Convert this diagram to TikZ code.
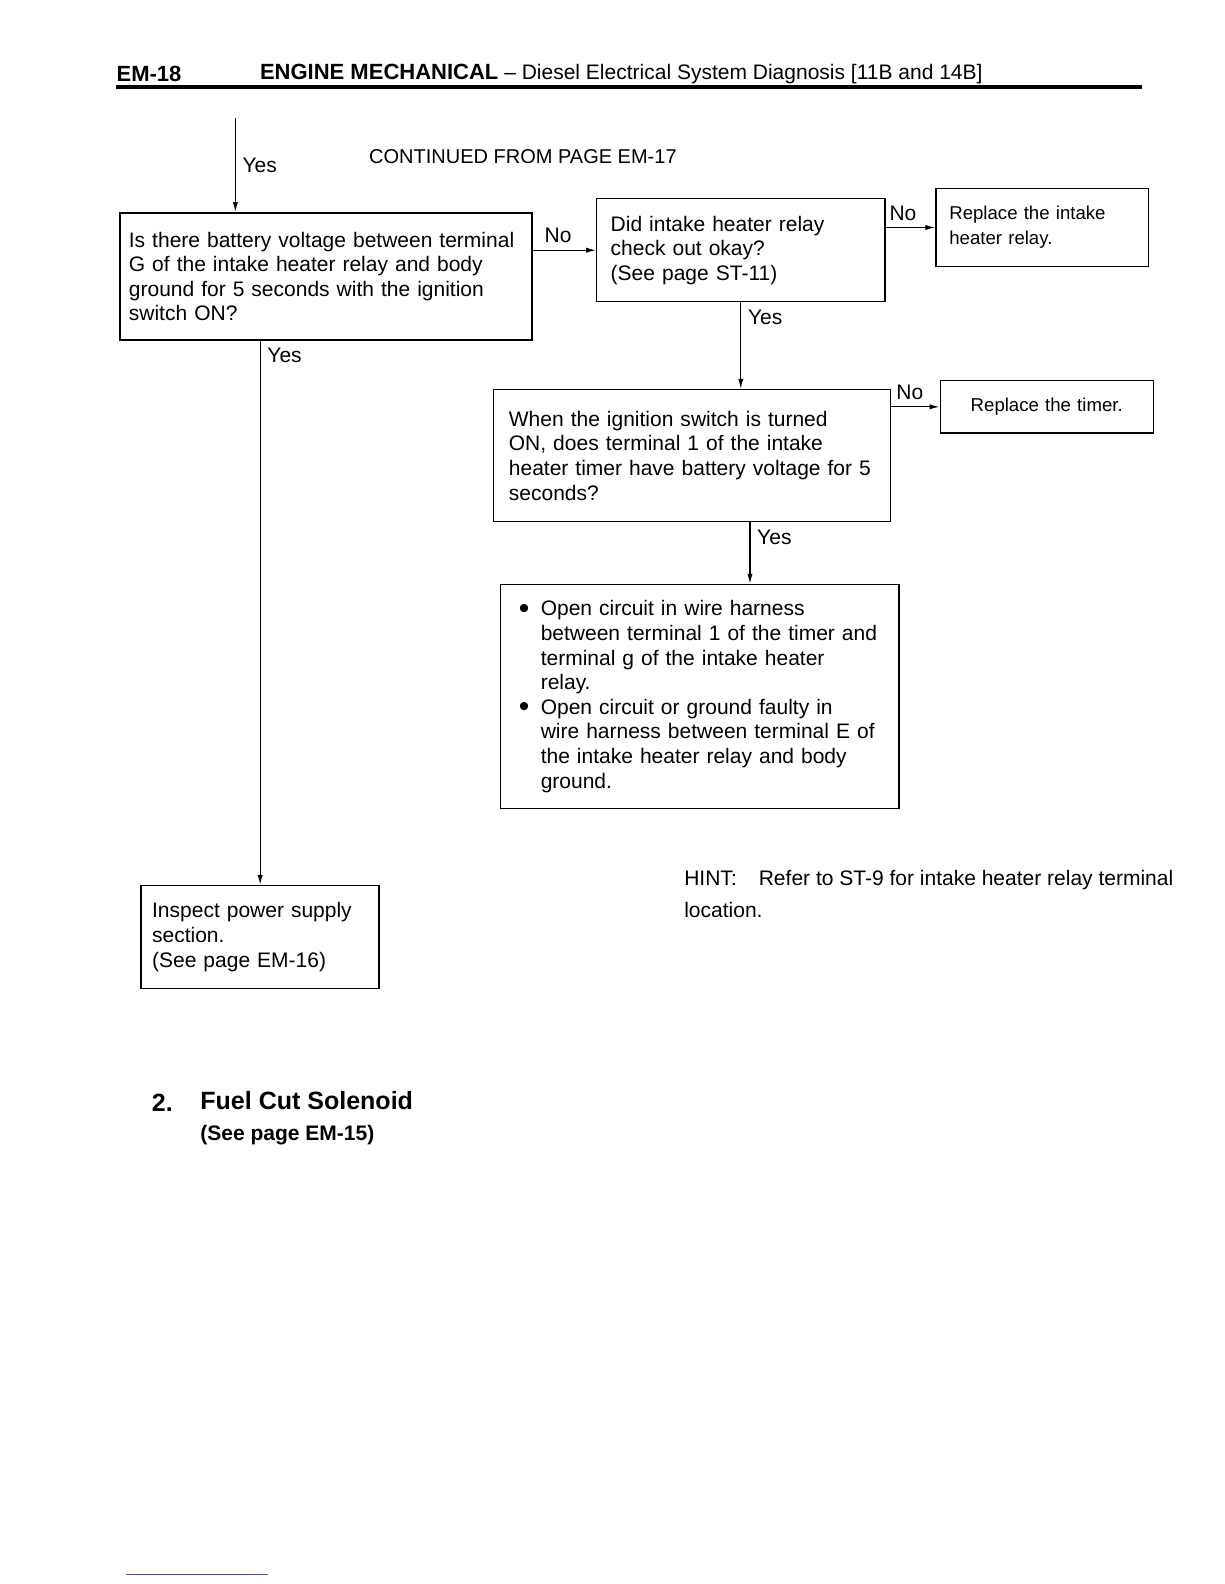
\documentclass[tikz,border=0pt]{standalone}
\usepackage{fontspec}
\setmainfont{Liberation Sans}
\usepackage{tikz}
\usetikzlibrary{calc,arrows.meta,positioning}

\tikzset{
  qbox/.style={draw, line width=0.7pt, anchor=north west, align=left},
  smalltext/.style={font=\fontsize{9.3}{12.5}\selectfont},
  arr/.style={line width=0.6pt, -{Latex[length=5pt,width=2.6pt]}},
  txt/.style={anchor=base west, inner sep=0pt}
}
\newcommand{\blt}{\makebox[11pt][l]{\raisebox{-1.2pt}{\fontsize{15}{12}\selectfont\textbullet}}}

\begin{document}
\begin{tikzpicture}[x=0.50495pt, y=-0.50495pt, font=\fontsize{10.5}{12.3}\selectfont]
    \useasboundingbox (0,0) rectangle (1212,1568);

    % Page header
    \node[txt, font=\bfseries\fontsize{11}{13}\selectfont] (page) at (115,81) {EM-18};
    \node[txt] (title) at (257,79) {{\bfseries\fontsize{11}{13}\selectfont ENGINE MECHANICAL} – Diesel Electrical System Diagnosis [11B and 14B]};
    \draw[line width=2pt] (115,86) -- (1130,86);

    \node[txt, font=\fontsize{10}{12}\selectfont] (cont) at (365,162) {CONTINUED FROM PAGE EM-17};

    % Question boxes
    \node[qbox, inner xsep=4.5pt, text width=197pt, minimum height=63.6pt] (q1) at (118,210)
        {Is there battery voltage between terminal\\G of the intake heater relay and body\\ground for 5 seconds with the ignition\\switch ON?};
    \node[qbox, inner xsep=7pt, text width=130pt, minimum height=51.5pt] (q2) at (590,196)
        {Did intake heater relay\\check out okay?\\(See page ST-11)};
    \node[qbox, smalltext, inner xsep=6.6pt, text width=93pt, minimum height=38.9pt] (q3) at (926,186)
        {Replace the intake\\heater relay.};
    \node[qbox, inner xsep=7.6pt, text width=183pt, minimum height=66pt] (q4) at (488,385)
        {When the ignition switch is turned\\ON, does terminal 1 of the intake\\heater timer have battery voltage for 5\\seconds?};
    \node[qbox, smalltext, align=center, inner xsep=4pt, text width=98.5pt, minimum height=26.3pt] (q5) at (930,376)
        {Replace the timer.};
    \node[qbox, inner xsep=9pt, text width=181pt, minimum height=112pt] (q6) at (495,578)
        {\blt Open circuit in wire harness\\
         \hspace*{11pt}between terminal 1 of the timer and\\
         \hspace*{11pt}terminal g of the intake heater\\
         \hspace*{11pt}relay.\\
         \blt Open circuit or ground faulty in\\
         \hspace*{11pt}wire harness between terminal E of\\
         \hspace*{11pt}the intake heater relay and body\\
         \hspace*{11pt}ground.};
    \node[qbox, inner xsep=5.5pt, text width=108pt, minimum height=51.5pt] (q7) at (139,876)
        {Inspect power supply\\section.\\(See page EM-16)};

    % Connectors
    \coordinate (entry) at (233,117);
    \draw[arr] (entry) -- node[right] {Yes} (entry |- q1.north);
    \draw[arr] (q2.west -| q1.east) -- node[above, pos=0.4] {No} (q2.west);
    \draw[arr] (q3.west -| q2.east) -- node[above, pos=0.35] {No} (q3.west);
    \draw[arr] (q2.south) -- (q2.south |- q4.north) node[pos=0, below right] {Yes};
    \draw[arr] (q5.west -| q4.east) -- node[above, pos=0.39] {No} (q5.west);
    \draw[arr] ([xshift=29pt]q4.south) -- ([xshift=29pt]q4.south |- q6.north) node[pos=0, below right] {Yes};
    \draw[arr] (q7.north |- q1.south) -- (q7.north) node[pos=0, below right] {Yes};

    % Hint
    \node[txt] (hint1) at (677,877) {HINT:\hspace{11pt}Refer to ST-9 for intake heater relay terminal};
    \node[txt] (hint2) at (677,908) {location.};

    % Next section
    \node[txt, font=\bfseries\fontsize{12.5}{15}\selectfont] (num) at (150,1100) {2.};
    \node[txt, font=\bfseries\fontsize{12.5}{15}\selectfont] (sect) at (198,1098) {Fuel Cut Solenoid};
    \node[txt, font=\bfseries\fontsize{10.5}{12.3}\selectfont] (sectref) at (198,1129) {(See page EM-15)};

    \draw[line width=0.4pt, blue!35!gray] (125,1558) -- (265,1558);
\end{tikzpicture}
\end{document}
